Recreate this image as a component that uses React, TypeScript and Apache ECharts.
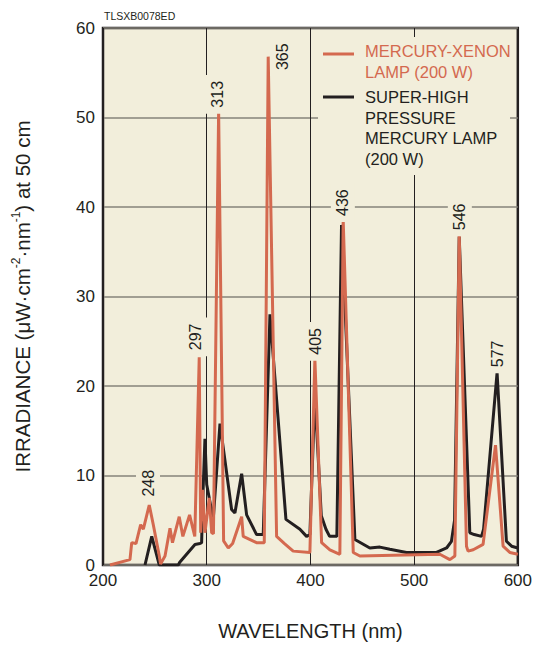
import React, { useEffect, useRef } from "react";
import * as echarts from "echarts";

// Mercury-Xenon lamp (200 W)
const xeWavelength = [206.7, 226, 227.7, 231.8, 236.3, 238.9, 244.6, 248.5, 254.3, 255.5, 259.8, 264.6, 267, 273.5, 277, 283.5, 288.5, 292.8, 294.2, 296.1, 298.3, 302.5, 304.8, 306.5, 311.5, 316.3, 320.8, 325, 333.7, 335.2, 348, 355.5, 359.3, 367.4, 375, 383.4, 399.5, 404.3, 410.8, 418.8, 428.4, 431.6, 441.3, 447.7, 480, 524.8, 534.5, 539.3, 543.5, 550.5, 552, 557, 566.5, 578.5, 585.8, 592.3, 600];
const xeIrradiance = [0, 0.6, 2.5, 2.4, 4.5, 4.0, 6.7, 4.5, 1.0, 0.1, 1.0, 4.1, 2.5, 5.4, 3.2, 5.6, 3.2, 23.2, 3.6, 8.4, 3.6, 7.5, 3.6, 3.5, 50.7, 2.7, 1.9, 2.4, 5.4, 3.2, 2.5, 2.5, 56.8, 3.2, 2.4, 1.55, 1.4, 23.0, 2.5, 1.7, 1.2, 38.6, 1.4, 1.0, 1.1, 1.2, 0.6, 1.0, 36.9, 2.1, 1.55, 1.7, 2.3, 13.4, 2.1, 1.4, 1.2];

// Super-high pressure mercury lamp (200 W)
const hgWavelength = [240.5, 247, 254.3, 272.6, 274, 288.7, 293.5, 295.1, 296, 298.3, 300, 306.3, 312.8, 324, 327.2, 333.7, 338.5, 348.1, 354.5, 361, 376.4, 389.9, 396.3, 399.5, 404.3, 410.5, 415, 418.5, 425.5, 430, 442.9, 457.3, 467, 476.6, 492.7, 521.6, 531.3, 536, 539, 543.5, 553.7, 558, 565, 567, 580, 589, 594, 600];
const hgIrradiance = [0, 3.2, 0, 0, 0.3, 2.3, 2.4, 2.5, 6.65, 14.1, 9, 5.1, 15.8, 6.2, 5.8, 10.2, 5.6, 3.4, 3.4, 28.0, 5.1, 4.0, 3.2, 3.4, 19, 5.5, 4.0, 3.2, 3.2, 38, 2.85, 1.9, 2.0, 1.75, 1.4, 1.4, 1.9, 2.65, 5, 36.7, 3.6, 3.4, 3.2, 4.0, 21.5, 2.65, 2.1, 1.9];

// Peak labels (text, anchor wavelength, anchor irradiance at text bottom)
const peakLabels = ["248", "297", "313", "365", "405", "436", "546", "577"];
const peakLabelX = [243.4, 289.6, 310.8, 373.5, 405.0, 431.3, 544.1, 580.7];
const peakLabelY = [7.65, 24.0, 51.1, 55.3, 23.5, 39.0, 37.4, 22.1];

const xTicks = [200, 300, 400, 500, 600];
const yTicks = [0, 10, 20, 30, 40, 50, 60];

const legendNames = ["MERCURY-XENON\nLAMP (200 W)", "SUPER-HIGH\nPRESSURE\nMERCURY LAMP\n(200 W)"];

const ORANGE = "#d4694f";
const DARK = "#231f20";
const CREAM = "#f2eedb";
const FONT = "'Liberation Sans', Arial, Helvetica, sans-serif";

export default function App() {
  const ref = useRef<HTMLDivElement>(null);
  useEffect(() => {
    if (!ref.current) return;
    const chart = echarts.init(ref.current, null, { renderer: "svg" });
    const xe = xeWavelength.map((x, i) => [x, xeIrradiance[i]]);
    const hg = hgWavelength.map((x, i) => [x, hgIrradiance[i]]);
    chart.setOption({
      animation: false,
      textStyle: { fontFamily: FONT },
      grid: {
        left: 103,
        right: 17,
        top: 28,
        bottom: 77,
        show: true,
        backgroundColor: CREAM,
        borderColor: DARK,
        borderWidth: 2.5,
      },
      xAxis: {
        type: "value",
        min: xTicks[0],
        max: xTicks[xTicks.length - 1],
        interval: 100,
        name: "WAVELENGTH (nm)",
        nameLocation: "middle",
        nameGap: 56,
        nameTextStyle: { fontSize: 20, color: DARK, fontFamily: FONT },
        axisLine: { show: false },
        axisTick: { show: false },
        axisLabel: { fontSize: 17, color: DARK, margin: 7, fontFamily: FONT },
        splitLine: { show: true, lineStyle: { color: DARK, width: 1 } },
      },
      yAxis: {
        type: "value",
        min: yTicks[0],
        max: yTicks[yTicks.length - 1],
        interval: 10,
        name: "IRRADIANCE (μW·cm{s|-2}·nm{s|-1}) at 50 cm",
        nameLocation: "middle",
        nameGap: 69,
        nameRotate: 90,
        nameTextStyle: {
          fontSize: 20.5,
          color: DARK,
          fontFamily: FONT,
          lineHeight: 24,
          rich: {
            s: { fontSize: 12, lineHeight: 12, verticalAlign: "top", color: DARK, fontFamily: FONT },
          },
        },
        axisLine: { show: false },
        axisTick: { show: false },
        axisLabel: { fontSize: 17, color: DARK, margin: 8, fontFamily: FONT },
        splitLine: { show: true, lineStyle: { color: "#86837a", width: 1.5 } },
      },
      series: [
        {
          name: "SUPER-HIGH PRESSURE MERCURY LAMP (200 W)",
          type: "line",
          data: hg,
          showSymbol: false,
          lineStyle: { color: DARK, width: 3 },
          itemStyle: { color: DARK },
          z: 3,
        },
        {
          name: "MERCURY-XENON LAMP (200 W)",
          type: "line",
          data: xe,
          showSymbol: false,
          lineStyle: { color: ORANGE, width: 3 },
          itemStyle: { color: ORANGE },
          z: 4,
        },
      ],
    });

    const labelEls = peakLabels.map((t, i) => {
      const p = chart.convertToPixel({ gridIndex: 0 }, [peakLabelX[i], peakLabelY[i]]) as number[];
      return {
        type: "text",
        x: p[0],
        y: p[1] + 6,
        rotation: Math.PI / 2,
        z: 10,
        style: {
          text: t,
          fill: DARK,
          font: `16px ${FONT}`,
          align: "left",
          verticalAlign: "middle",
          backgroundColor: CREAM,
          padding: [4, 6, 4, 6],
        },
      };
    });

    chart.setOption({
      graphic: [
        {
          type: "text",
          x: 104,
          y: 16,
          style: { text: "TLSXB0078ED", fill: DARK, font: `10.5px ${FONT}`, align: "left", verticalAlign: "middle" },
        },
        ...labelEls,
        { type: "rect", shape: { x: 318, y: 37, width: 192, height: 138 }, style: { fill: CREAM }, z: 10 },
        { type: "line", shape: { x1: 323, y1: 54, x2: 354, y2: 54 }, style: { stroke: ORANGE, lineWidth: 3 }, z: 11 },
        { type: "line", shape: { x1: 323, y1: 97, x2: 354, y2: 97 }, style: { stroke: DARK, lineWidth: 3 }, z: 11 },
        {
          type: "text",
          x: 365,
          y: 41,
          z: 11,
          style: { text: legendNames[0], fill: ORANGE, font: `16.5px ${FONT}`, lineHeight: 20.5, align: "left", verticalAlign: "top" },
        },
        {
          type: "text",
          x: 365,
          y: 87,
          z: 11,
          style: { text: legendNames[1], fill: DARK, font: `16.5px ${FONT}`, lineHeight: 20.5, align: "left", verticalAlign: "top" },
        },
      ],
    });
    return () => chart.dispose();
  }, []);
  return <div ref={ref} style={{ width: 535, height: 646, position: "absolute", left: 0, top: 0 }} />;
}
